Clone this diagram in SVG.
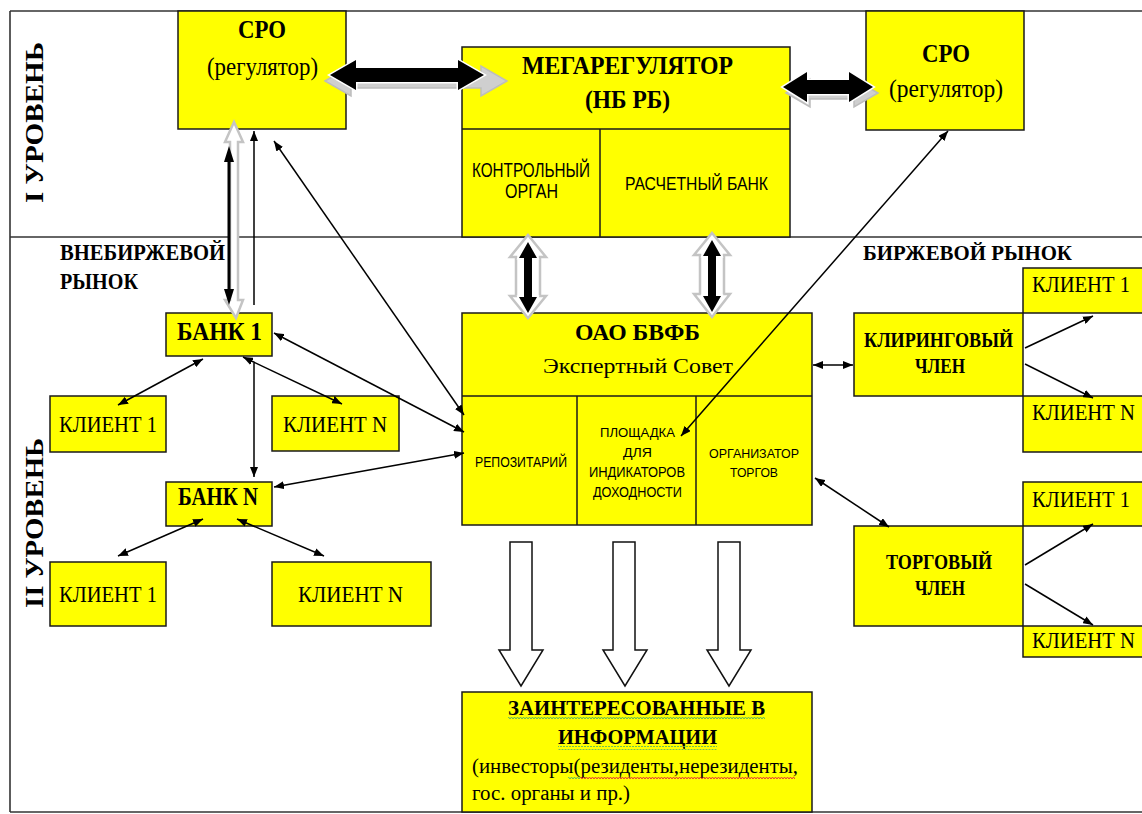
<svg xmlns="http://www.w3.org/2000/svg" width="1142" height="814" viewBox="0 0 1142 814">
<style>
.box{fill:#ffff00;stroke:#1a1a1a;stroke-width:1.5}
.fill{fill:#ffff00}
.edge{fill:none;stroke:#1a1a1a;stroke-width:1.5}
.frame{stroke:#333;stroke-width:1.6;fill:none}
.cell{stroke:#1a1a1a;stroke-width:1.5}
.s{font-family:"Liberation Serif","Times New Roman",serif;fill:#000}
.b{font-weight:bold}
.n{font-family:"Liberation Sans Narrow","Liberation Sans",Arial,sans-serif;fill:#000}
.ln{stroke:#000;stroke-width:1.5;fill:none}
.blk{fill:#000;stroke:#fff;stroke-width:3;paint-order:stroke}
.out{fill:#fff;stroke:#c4c4c4;stroke-width:2.5}
.hol{fill:#fff;stroke:#111;stroke-width:1.5}
</style>
<defs>
<marker id="ah" viewBox="0 0 10 8" refX="10" refY="4" markerWidth="10" markerHeight="8" markerUnits="userSpaceOnUse" orient="auto-start-reverse">
<path d="M0,0 L10,4 L0,8 z" fill="#000"/>
</marker>
<pattern id="wg" width="6" height="4" patternUnits="userSpaceOnUse">
<path d="M0,3 L1.5,1 L3,3 L4.5,1 L6,3" stroke="#5cb85c" stroke-width="1" fill="none"/>
</pattern>
<pattern id="wr" width="6" height="4" patternUnits="userSpaceOnUse">
<path d="M0,3 L1.5,1 L3,3 L4.5,1 L6,3" stroke="#e53935" stroke-width="1" fill="none"/>
</pattern>
</defs>

<g id="frame">
<line class="frame" x1="10" y1="11" x2="1142" y2="11"/>
<line class="frame" x1="10" y1="11" x2="10" y2="812"/>
<line class="frame" x1="10" y1="237" x2="1142" y2="237"/>
<line class="frame" x1="10" y1="812" x2="1142" y2="812"/>
<text class="s b" font-size="26" transform="translate(43,203) rotate(-90)" textLength="161" lengthAdjust="spacingAndGlyphs">I УРОВЕНЬ</text>
<text class="s b" font-size="26" transform="translate(43,608) rotate(-90)" textLength="170" lengthAdjust="spacingAndGlyphs">II УРОВЕНЬ</text>
<text class="s b" font-size="23" x="60" y="260" textLength="165" lengthAdjust="spacingAndGlyphs">ВНЕБИРЖЕВОЙ</text>
<text class="s b" font-size="23" x="60" y="289" textLength="78" lengthAdjust="spacingAndGlyphs">РЫНОК</text>
<text class="s b" font-size="22" x="863" y="260" textLength="209" lengthAdjust="spacingAndGlyphs">БИРЖЕВОЙ РЫНОК</text>
</g>

<g id="sro-left">
<rect class="box" x="178" y="11" width="168" height="118"/>
<text class="s b" font-size="26" x="238" y="38" textLength="48" lengthAdjust="spacingAndGlyphs">СРО</text>
<text class="s" font-size="25" x="207" y="75" textLength="111" lengthAdjust="spacingAndGlyphs">(регулятор)</text>
</g>

<g id="megaregulator">
<rect class="box" x="462" y="47" width="328" height="190"/>
<line class="cell" x1="462" y1="129" x2="790" y2="129"/>
<line class="cell" x1="600" y1="129" x2="600" y2="237"/>
<text class="s b" font-size="26" x="522" y="74" textLength="211" lengthAdjust="spacingAndGlyphs">МЕГАРЕГУЛЯТОР</text>
<text class="s b" font-size="26" x="585" y="108" textLength="85" lengthAdjust="spacingAndGlyphs">(НБ РБ)</text>
<text class="n" font-size="20" x="472" y="177" textLength="118" lengthAdjust="spacingAndGlyphs">КОНТРОЛЬНЫЙ</text>
<text class="n" font-size="20" x="505" y="198" textLength="53" lengthAdjust="spacingAndGlyphs">ОРГАН</text>
<text class="n" font-size="18" x="625" y="190" textLength="143" lengthAdjust="spacingAndGlyphs">РАСЧЕТНЫЙ БАНК</text>
</g>

<g id="sro-right">
<rect class="box" x="866" y="11" width="158" height="119"/>
<text class="s b" font-size="26" x="922" y="62" textLength="48" lengthAdjust="spacingAndGlyphs">СРО</text>
<text class="s" font-size="25" x="889" y="97" textLength="114" lengthAdjust="spacingAndGlyphs">(регулятор)</text>
</g>

<g id="bank1">
<rect class="box" x="166" y="313" width="106" height="43"/>
<text class="s b" font-size="26" x="177" y="340" textLength="85" lengthAdjust="spacingAndGlyphs">БАНК 1</text>
</g>
<g id="client1-a">
<rect class="box" x="50" y="396" width="116" height="56"/>
<text class="s" font-size="24" x="59" y="432" textLength="98" lengthAdjust="spacingAndGlyphs">КЛИЕНТ 1</text>
</g>
<g id="clientN-a">
<rect class="box" x="272" y="396" width="127" height="55"/>
<text class="s" font-size="24" x="283" y="432" textLength="104" lengthAdjust="spacingAndGlyphs">КЛИЕНТ N</text>
</g>
<g id="bankN">
<rect class="box" x="166" y="482" width="106" height="44"/>
<text class="s b" font-size="26" x="178" y="505" textLength="80" lengthAdjust="spacingAndGlyphs">БАНК N</text>
</g>
<g id="client1-b">
<rect class="box" x="50" y="562" width="116" height="64"/>
<text class="s" font-size="24" x="59" y="602" textLength="98" lengthAdjust="spacingAndGlyphs">КЛИЕНТ 1</text>
</g>
<g id="clientN-b">
<rect class="box" x="272" y="562" width="159" height="64"/>
<text class="s" font-size="24" x="298" y="602" textLength="105" lengthAdjust="spacingAndGlyphs">КЛИЕНТ N</text>
</g>

<g id="bvfb">
<rect class="box" x="462" y="313" width="350" height="212"/>
<line class="cell" x1="462" y1="396" x2="812" y2="396"/>
<line class="cell" x1="577" y1="396" x2="577" y2="525"/>
<line class="cell" x1="696" y1="396" x2="696" y2="525"/>
<text class="s b" font-size="23" x="575" y="340" textLength="125" lengthAdjust="spacingAndGlyphs">ОАО БВФБ</text>
<text class="s" font-size="22" x="543" y="373" textLength="190" lengthAdjust="spacingAndGlyphs">Экспертный Совет</text>
<text class="n" font-size="14" x="475" y="467" textLength="92" lengthAdjust="spacingAndGlyphs">РЕПОЗИТАРИЙ</text>
<text class="n" font-size="13" x="600" y="437" textLength="75" lengthAdjust="spacingAndGlyphs">ПЛОЩАДКА</text>
<text class="n" font-size="13" x="623" y="457" textLength="29" lengthAdjust="spacingAndGlyphs">ДЛЯ</text>
<text class="n" font-size="14" x="589" y="477" textLength="96" lengthAdjust="spacingAndGlyphs">ИНДИКАТОРОВ</text>
<text class="n" font-size="14" x="593" y="497" textLength="89" lengthAdjust="spacingAndGlyphs">ДОХОДНОСТИ</text>
<text class="n" font-size="13" x="709" y="458" textLength="90" lengthAdjust="spacingAndGlyphs">ОРГАНИЗАТОР</text>
<text class="n" font-size="13" x="730" y="477" textLength="48" lengthAdjust="spacingAndGlyphs">ТОРГОВ</text>
</g>

<g id="client1-c">
<rect class="fill" x="1023" y="268" width="119" height="45"/>
<path class="edge" d="M1142,268 H1023 V313 H1142"/>
<text class="s" font-size="24" transform="translate(1032,292) scale(0.82,1)" textLength="119.5" lengthAdjust="spacingAndGlyphs">КЛИЕНТ 1</text>
</g>
<g id="clearing">
<rect class="box" x="854" y="313" width="169" height="83"/>
<text class="s b" font-size="21" x="864" y="347" textLength="149" lengthAdjust="spacingAndGlyphs">КЛИРИНГОВЫЙ</text>
<text class="s b" font-size="21" x="915" y="373" textLength="50" lengthAdjust="spacingAndGlyphs">ЧЛЕН</text>
</g>
<g id="clientN-c">
<rect class="fill" x="1023" y="396" width="119" height="56"/>
<path class="edge" d="M1142,396 H1023 V452 H1142"/>
<text class="s" font-size="24" transform="translate(1032,420) scale(0.82,1)" textLength="125.6" lengthAdjust="spacingAndGlyphs">КЛИЕНТ N</text>
</g>
<g id="client1-d">
<rect class="fill" x="1023" y="482" width="119" height="44"/>
<path class="edge" d="M1142,482 H1023 V526 H1142"/>
<text class="s" font-size="24" transform="translate(1032,507) scale(0.82,1)" textLength="119.5" lengthAdjust="spacingAndGlyphs">КЛИЕНТ 1</text>
</g>
<g id="trading">
<rect class="box" x="854" y="526" width="169" height="100"/>
<text class="s b" font-size="21" x="886" y="569" textLength="106" lengthAdjust="spacingAndGlyphs">ТОРГОВЫЙ</text>
<text class="s b" font-size="21" x="915" y="595" textLength="50" lengthAdjust="spacingAndGlyphs">ЧЛЕН</text>
</g>
<g id="clientN-d">
<rect class="fill" x="1023" y="626" width="119" height="31"/>
<path class="edge" d="M1142,626 H1023 V657 H1142"/>
<text class="s" font-size="24" transform="translate(1032,648) scale(0.82,1)" textLength="125.6" lengthAdjust="spacingAndGlyphs">КЛИЕНТ N</text>
</g>

<g id="interested">
<rect class="box" x="462" y="692" width="350" height="120"/>
<text class="s b" font-size="22" x="508" y="715" textLength="257" lengthAdjust="spacingAndGlyphs">ЗАИНТЕРЕСОВАННЫЕ В</text>
<text class="s b" font-size="22" x="558" y="744" textLength="159" lengthAdjust="spacingAndGlyphs">ИНФОРМАЦИИ</text>
<text class="s" font-size="20" x="472" y="773" textLength="326" lengthAdjust="spacingAndGlyphs">(инвесторы(резиденты,нерезиденты,</text>
<text class="s" font-size="20" x="472" y="800" textLength="158" lengthAdjust="spacingAndGlyphs">гос. органы и пр.)</text>
<rect x="508" y="717" width="257" height="4" fill="url(#wg)"/>
<rect x="558" y="746" width="159" height="4" fill="url(#wg)"/>
<rect x="568" y="775" width="12" height="4" fill="url(#wg)"/>
<rect x="580" y="775" width="215" height="4" fill="url(#wr)"/>
</g>

<g id="connectors">
<polygon points="325,81 351,66 351,74 481,74 481,66 507,81 481,96 481,88 351,88 351,96" fill="#cfcfcf" stroke="#bdbdbd" stroke-width="1.5"/>
<polygon class="blk" points="330,75 356,60 356,68 458,68 458,60 484,75 458,90 458,82 356,82 356,90"/>
<polygon points="786,93 810,79 810,87 854,87 854,79 878,93 854,107 854,99 810,99 810,107" fill="#cfcfcf" stroke="#bdbdbd" stroke-width="1.5"/>
<polygon class="blk" points="783,87 807,72 807,80 849,80 849,72 873,87 849,102 849,94 807,94 807,102"/>

<polygon class="out" points="528,235 546,257 540,257 540,296 546,296 528,318 510,296 516,296 516,257 510,257"/>
<polygon class="blk" points="528,242 537,258 532,258 532,297 537,297 528,313 519,297 524,297 524,258 519,258"/>
<polygon class="out" points="712,233 730,255 724,255 724,294 730,294 712,317 694,294 700,294 700,255 694,255"/>
<polygon class="blk" points="712,240 721,256 716,256 716,296 721,296 712,312 703,296 708,296 708,256 703,256"/>

<polygon class="out" points="234,122 243,142 238,142 238,300 243,300 236,318 225,300 230,300 230,142 225,142"/>
<polygon points="229,146 234,162 230.5,162 230.5,289 234,289 229,305 224,289 227.5,289 227.5,162 224,162" fill="#000"/>

<line class="ln" x1="274" y1="141" x2="464" y2="415" marker-start="url(#ah)" marker-end="url(#ah)"/>
<line class="ln" x1="274" y1="333" x2="464" y2="432" marker-start="url(#ah)" marker-end="url(#ah)"/>
<line class="ln" x1="274" y1="487" x2="464" y2="453" marker-start="url(#ah)" marker-end="url(#ah)"/>
<line class="ln" x1="203" y1="359" x2="118" y2="405" marker-start="url(#ah)" marker-end="url(#ah)"/>
<line class="ln" x1="243" y1="357" x2="342" y2="404" marker-start="url(#ah)" marker-end="url(#ah)"/>
<line class="ln" x1="254" y1="363" x2="254" y2="477" marker-end="url(#ah)"/>
<line class="ln" x1="254" y1="305" x2="254" y2="131" marker-end="url(#ah)"/>
<line class="ln" x1="203" y1="519" x2="118" y2="556" marker-start="url(#ah)" marker-end="url(#ah)"/>
<line class="ln" x1="237" y1="519" x2="324" y2="556" marker-start="url(#ah)" marker-end="url(#ah)"/>
<line class="ln" x1="813" y1="365" x2="853" y2="365" marker-start="url(#ah)" marker-end="url(#ah)"/>
<line class="ln" x1="815" y1="478" x2="889" y2="527" marker-start="url(#ah)" marker-end="url(#ah)"/>
<line class="ln" x1="1025" y1="348" x2="1093" y2="316" marker-end="url(#ah)"/>
<line class="ln" x1="1025" y1="364" x2="1093" y2="398" marker-end="url(#ah)"/>
<line class="ln" x1="1025" y1="565" x2="1093" y2="524" marker-end="url(#ah)"/>
<line class="ln" x1="1025" y1="584" x2="1093" y2="625" marker-end="url(#ah)"/>
<line class="ln" x1="681" y1="436" x2="948" y2="131" marker-start="url(#ah)" marker-end="url(#ah)"/>

<polygon class="hol" points="510,542 532,542 532,650 543,650 521,686 499,650 510,650"/>
<polygon class="hol" points="613,542 635,542 635,650 647,650 625,686 603,650 613,650"/>
<polygon class="hol" points="718,542 740,542 740,650 751,650 729,686 707,650 718,650"/>
</g>
</svg>
